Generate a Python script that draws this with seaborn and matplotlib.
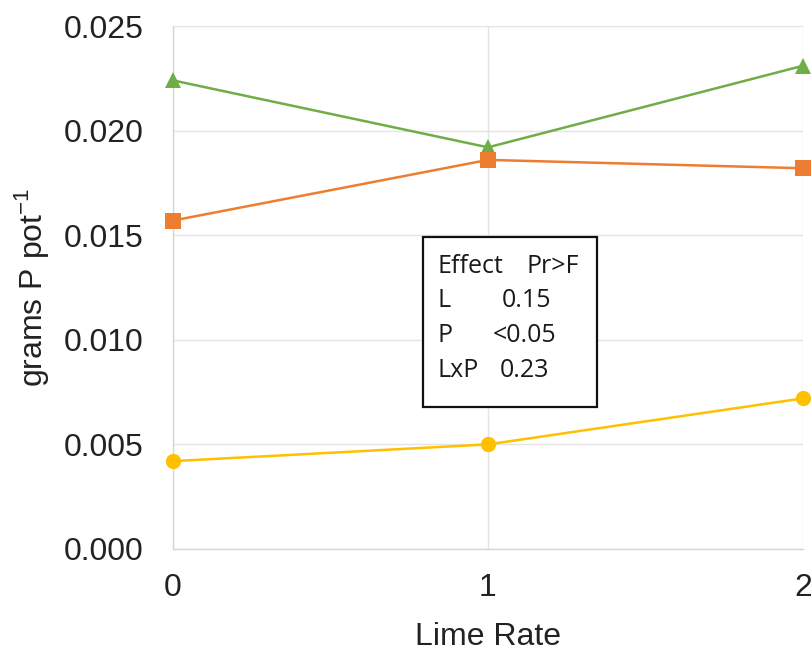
import matplotlib
matplotlib.use("Agg")
import matplotlib.pyplot as plt
from matplotlib.patches import Rectangle
import seaborn as sns
import pandas as pd

lime_rate = [0, 1, 2]
series_green = [0.0224, 0.0192, 0.0231]
series_orange = [0.0157, 0.0186, 0.0182]
series_yellow = [0.0042, 0.0050, 0.0072]
series_names = ["A", "B", "C"]
colors = ["#70AD47", "#ED7D31", "#FFC000"]
markers = ["^", "s", "o"]
y_ticks = [0.000, 0.005, 0.010, 0.015, 0.020, 0.025]

table_header = ["Effect", "Pr>F"]
table_effects = ["L", "P", "LxP"]
table_pvalues = ["0.15", "<0.05", "0.23"]

rows = []
for name, vals in zip(series_names, [series_green, series_orange, series_yellow]):
    for x, v in zip(lime_rate, vals):
        rows.append({"Lime Rate": x, "value": v, "series": name})
df = pd.DataFrame(rows)

sns.set_style("white")
plt.rcParams["font.family"] = ["Liberation Sans", "DejaVu Sans"]

W, H = 812, 651
fig = plt.figure(figsize=(W / 100, H / 100), dpi=100)
ax = fig.add_axes([173 / W, 1 - 549 / H, 630 / W, 523 / H])

sns.lineplot(data=df, x="Lime Rate", y="value", hue="series", style="series",
             palette=dict(zip(series_names, colors)),
             markers=dict(zip(series_names, markers)), dashes=False,
             markersize=11, markeredgewidth=0, linewidth=1.8, legend=False,
             ax=ax, clip_on=False, zorder=3)

ax.set_xlim(0, 2)
ax.set_ylim(0, 0.025)
ax.set_xticks(lime_rate)
ax.set_xticklabels([str(v) for v in lime_rate])
ax.set_yticks(y_ticks)
ax.set_yticklabels([f"{v:.3f}" for v in y_ticks])
ax.tick_params(axis="both", labelsize=23, length=0, colors="#222222")
ax.tick_params(axis="y", pad=21)
ax.tick_params(axis="x", pad=17)
ax.grid(True, color="#e4e4e4", linewidth=1)
for s in ["top", "right"]:
    ax.spines[s].set_visible(False)
for s in ["left", "bottom"]:
    ax.spines[s].set_color("#d6d6d6")
    ax.spines[s].set_linewidth(1)

ax.set_xlabel("Lime Rate", fontsize=23, color="#222222", labelpad=14)
ax.set_ylabel("grams P pot$^{\\mathregular{-1}}$", fontsize=23, color="#222222", labelpad=9)

# statistics box
box = Rectangle((423 / W, 1 - 407 / H), 174 / W, 170 / H, transform=fig.transFigure,
                facecolor="white", edgecolor="#111111", linewidth=1.6, zorder=5)
fig.patches.append(box)
tfont = dict(fontsize=18, family=["Open Sans", "DejaVu Sans"], color="#1a1a1a",
             va="baseline", ha="left", transform=fig.transFigure, zorder=6)
fig.text(438 / W, 1 - 273 / H, table_header[0], **tfont)
fig.text(527 / W, 1 - 273 / H, table_header[1], **tfont)
right_x = [502, 493, 500]
baselines = [307, 342, 377]
for eff, pv, rx, by in zip(table_effects, table_pvalues, right_x, baselines):
    fig.text(438 / W, 1 - by / H, eff, **tfont)
    fig.text(rx / W, 1 - by / H, pv, **tfont)

fig.savefig("out.png", dpi=100)
